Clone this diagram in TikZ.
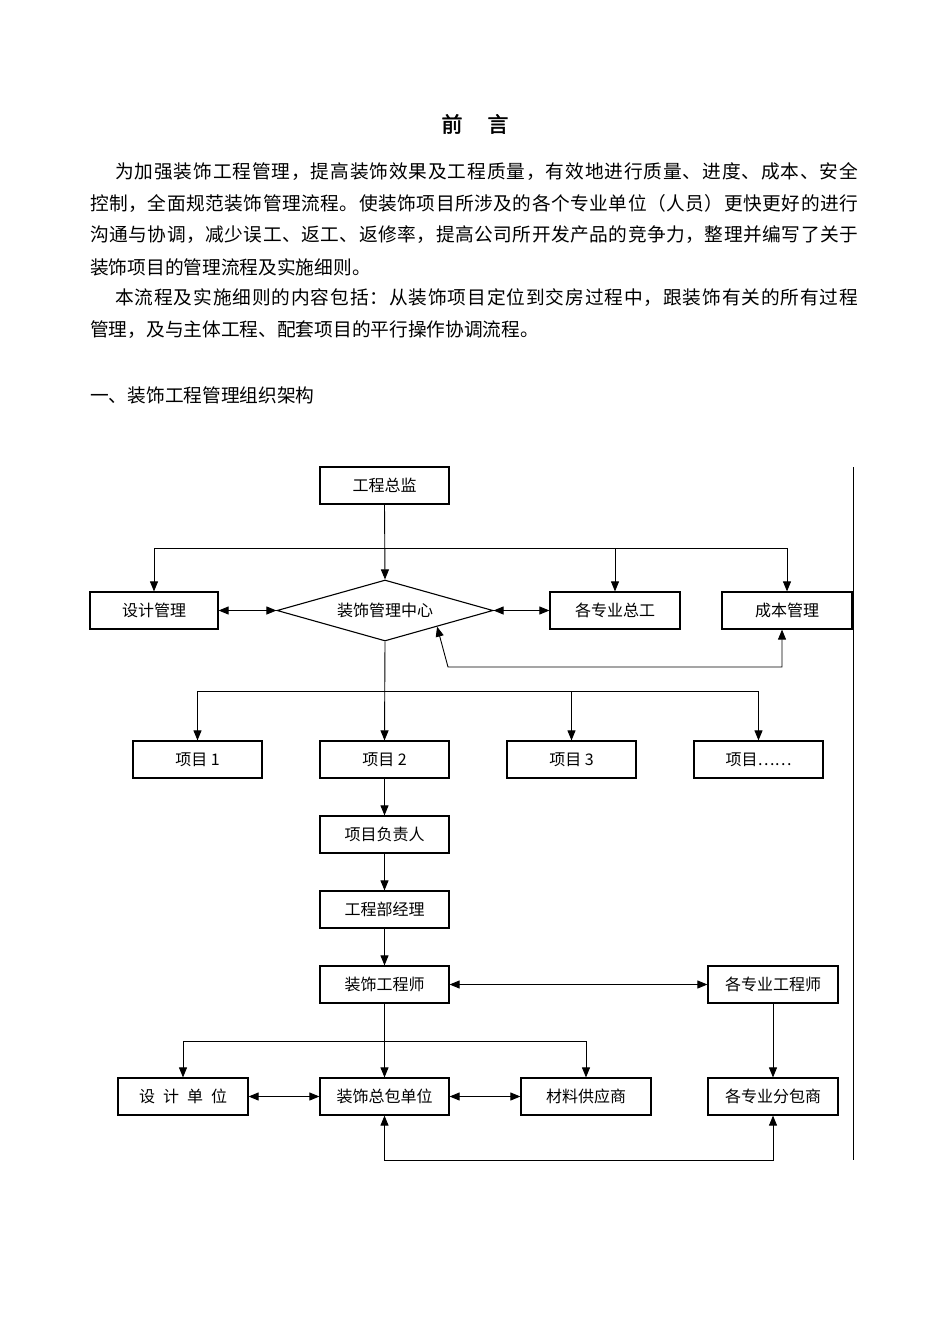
\documentclass[tikz,border=0pt]{standalone}
\usepackage{fontspec}
\setmainfont{Liberation Serif}
\newfontfamily\cjk{Noto Sans CJK SC}
\newfontfamily\cjkb[FakeBold=2]{Noto Sans CJK SC}
\usetikzlibrary{shapes.geometric,arrows.meta,calc}
\ExplSyntaxOn
\NewDocumentCommand\jline{mm}{\hbox to #1{\tl_map_inline:nn{#2}{##1\hfil}\unskip}}
\ExplSyntaxOff
\tikzset{
  box/.style={draw, line width=1.2pt, minimum width=129pt, minimum height=37pt, inner sep=0pt, font=\cjk\fontsize{16}{16}\selectfont},
  dia/.style={diamond, draw, line width=1.1pt, shape aspect=3.5, minimum width=216pt, minimum height=61pt, inner sep=0pt, font=\cjk\fontsize{16}{16}\selectfont},
  para/.style={anchor=west, inner sep=0pt, font=\cjk\fontsize{18.7}{18.7}\selectfont},
  conn/.style={line width=0.9pt},
  arr/.style={conn, -{Triangle[length=10pt,width=8pt]}},
  darr/.style={conn, {Triangle[length=10pt,width=8pt]}-{Triangle[length=10pt,width=8pt]}}
}
\begin{document}
\begin{tikzpicture}[x=1pt,y=-1pt]
\fill[white] (0,0) rectangle (950,1344);
\useasboundingbox (0,0) rectangle (950,1344);
% text
\node[font=\cjkb\fontsize{21}{21}\selectfont, inner sep=0pt] (title) at (475,124) {前\hspace{25pt}言};
\node[para] (p1) at (115,172) {\jline{743pt}{为加强装饰工程管理，提高装饰效果及工程质量，有效地进行质量、进度、成本、安全}};
\node[para] (p2) at (90,203) {\jline{768pt}{控制，全面规范装饰管理流程。使装饰项目所涉及的各个专业单位（人员）更快更好的进行}};
\node[para] (p3) at (90,235) {\jline{768pt}{沟通与协调，减少误工、返工、返修率，提高公司所开发产品的竞争力，整理并编写了关于}};
\node[para] (p4) at (90,267) {装饰项目的管理流程及实施细则。};
\node[para] (p5) at (115,298) {\jline{743pt}{本流程及实施细则的内容包括：从装饰项目定位到交房过程中，跟装饰有关的所有过程}};
\node[para] (p6) at (90,330) {管理，及与主体工程、配套项目的平行操作协调流程。};
\node[para] (p7) at (90,395) {一、装饰工程管理组织架构};
% boxes
\node[box] (zj) at (384.5,485.5) {工程总监};
\node[box,minimum width=128pt] (sjgl) at (154,610.5) {设计管理};
\node[dia] (zx) at (385,610.5) {装饰管理中心};
\node[box,minimum width=130pt] (zg) at (615,610.5) {各专业总工};
\node[box,minimum width=130pt] (cb) at (787,610.5) {成本管理};
\node[box] (x1) at (197.5,759.5) {项目 1};
\node[box] (x2) at (384.5,759.5) {项目 2};
\node[box] (x3) at (571.5,759.5) {项目 3};
\node[box] (x4) at (758.5,759.5) {项目……};
\node[box] (fz) at (384.5,834.5) {项目负责人};
\node[box] (jl) at (384.5,909.5) {工程部经理};
\node[box] (zs) at (384.5,984.5) {装饰工程师};
\node[box,minimum width=130pt] (gz) at (773,984.5) {各专业工程师};
\node[box,minimum width=130pt] (sd) at (183,1096.5) {设\hspace{8pt}计\hspace{8pt}单\hspace{8pt}位};
\node[box] (zb) at (384.5,1096.5) {装饰总包单位};
\node[box,minimum width=130pt] (cl) at (586,1096.5) {材料供应商};
\node[box,minimum width=130pt] (gf) at (773,1096.5) {各专业分包商};
% helper coordinates
\coordinate (h1) at (384.5,548);
\coordinate (h2) at (384.5,691);
\coordinate (h3) at (384.5,1041);
\coordinate (fb) at (448,667);
\coordinate (bl) at (384.5,1160);
\coordinate (r1) at (853,467);
\coordinate (r2) at (853,1160);
% connectors
\draw[arr] (zj.south) -- (zx.north);
\draw[arr] (h1) -| (sjgl.north);
\draw[arr] (h1) -| (zg.north);
\draw[arr] (h1) -| (cb.north);
\draw[darr] (sjgl.east) -- (zx.west);
\draw[darr] (zx.east) -- (zg.west);
\draw[darr] ($(zx.east)!0.52!(zx.south)$) -- (fb) -| ([xshift=-5pt]cb.south);
\draw[arr] (zx.south) -- (x2.north);
\draw[arr] (h2) -| (x1.north);
\draw[arr] (h2) -| (x3.north);
\draw[arr] (h2) -| (x4.north);
\draw[arr] (x2.south) -- (fz.north);
\draw[arr] (fz.south) -- (jl.north);
\draw[arr] (jl.south) -- (zs.north);
\draw[darr] (zs.east) -- (gz.west);
\draw[arr] (gz.south) -- (gf.north);
\draw[arr] (zs.south) -- (zb.north);
\draw[arr] (h3) -| (sd.north);
\draw[arr] (h3) -| (cl.north);
\draw[darr] (sd.east) -- (zb.west);
\draw[darr] (zb.east) -- (cl.west);
\draw[darr] (zb.south) -- (bl) -| (gf.south);
\draw[line width=1pt] (r1) -- (r2);
\end{tikzpicture}
\end{document}
